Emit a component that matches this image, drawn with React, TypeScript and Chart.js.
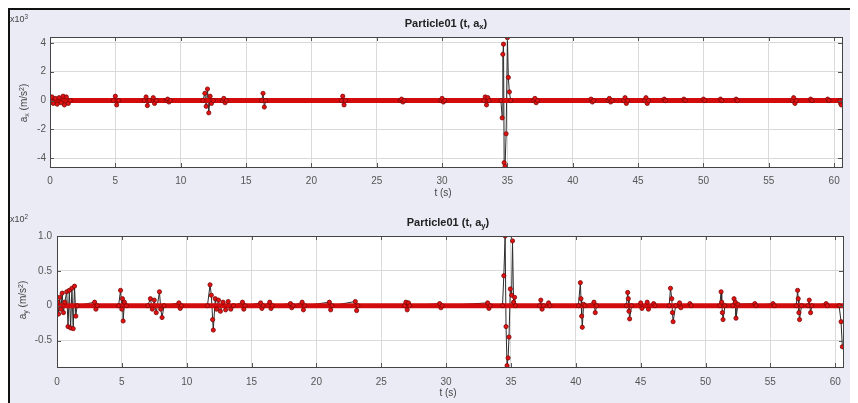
import React, { useEffect, useRef } from 'react';
import { Chart, registerables } from 'chart.js';
Chart.register(...registerables);

// ---------- data ----------
const xTicks = [0, 5, 10, 15, 20, 25, 30, 35, 40, 45, 50, 55, 60];
const xTickLabels = ['0', '5', '10', '15', '20', '25', '30', '35', '40', '45', '50', '55', '60'];
const axTicks = [-4, -2, 0, 2, 4];
const axTickLabels = ['-4', '-2', '0', '2', '4'];
const ayTicks = [-0.5, 0, 0.5, 1.0];
const ayTickLabels = ['-0.5', '0', '0.5', '1.0'];

const baselineTime = [0, 60.6];
const baselineValue = [0, 0];

const axTime = [
  0.05, 0.15, 0.25, 0.4, 0.55, 0.7, 0.85, 1.0, 1.1, 1.25, 1.4, 1.55,
  4.85, 5.0, 5.1, 5.25,
  7.2, 7.35, 7.45, 7.6, 7.9, 8.0, 8.15,
  8.9, 9.0, 9.1, 9.2,
  11.7, 11.85, 11.95, 12.05, 12.15, 12.25, 12.35, 12.5,
  13.2, 13.3, 13.4, 13.5,
  16.2, 16.3, 16.4, 16.5,
  22.3, 22.4, 22.5, 22.6,
  26.8, 26.9, 27.0, 27.1,
  29.9, 30.0, 30.1, 30.2,
  33.2, 33.3, 33.4, 33.5, 33.6,
  34.5, 34.6, 34.65, 34.7, 34.75, 34.82, 34.9, 35.0, 35.07, 35.15, 35.25,
  37.0, 37.1, 37.2, 37.3,
  41.4, 41.5, 41.6,
  42.7, 42.8, 42.9, 43.0,
  43.9, 44.0, 44.1, 44.2,
  45.5, 45.6, 45.7, 45.8,
  47.0, 47.1, 48.5, 48.6, 50.0, 50.1, 51.3, 51.4, 52.5, 52.6,
  56.8, 56.9, 57.0, 57.1,
  58.2, 58.3, 59.5, 59.6,
  60.45, 60.5, 60.55,
];
const axValue = [
  0, 0.25, -0.2, 0.15, -0.25, 0.2, -0.15, 0.3, -0.3, 0.25, -0.2, 0,
  0, 0.3, -0.3, 0,
  0, 0.25, -0.35, 0, 0.2, -0.2, 0,
  0, 0.1, -0.1, 0,
  0, 0.5, -0.4, 0.8, -0.85, 0.3, -0.2, 0,
  0, 0.15, -0.15, 0,
  0, 0.5, -0.45, 0,
  0, 0.3, -0.3, 0,
  0, 0.1, -0.1, 0,
  0, 0.15, -0.1, 0,
  0, 0.25, -0.3, 0.2, 0,
  0, -1.2, 3.2, 3.9, -4.3, -4.55, -2.3, 4.35, 1.6, 0.6, 0,
  0, 0.15, -0.15, 0,
  0.1, -0.1, 0,
  0, 0.15, -0.1, 0,
  0, 0.2, -0.2, 0,
  0, 0.2, -0.2, 0,
  0.1, 0, 0.1, 0, 0.1, 0, 0.1, 0, 0.1, 0,
  0, 0.2, -0.2, 0,
  0.1, 0, 0.1, 0,
  0, -0.2, -0.3,
];

const ayTime = [
  0.05, 0.12, 0.2, 0.3, 0.4, 0.5, 0.6, 0.75, 0.85, 0.95, 1.05, 1.15, 1.25, 1.35, 1.45, 1.55,
  2.9, 3.0, 3.1,
  4.75, 4.9, 5.0, 5.05, 5.1, 5.2, 5.35,
  7.0, 7.2, 7.35, 7.5, 7.65, 7.9, 8.0, 8.1, 8.25,
  9.4, 9.5, 9.6,
  11.6, 11.8, 11.9, 12.0, 12.05, 12.2, 12.3, 12.45, 12.6, 12.8, 13.0, 13.2, 13.4, 13.6,
  14.3, 14.4, 14.5,
  15.7, 15.8, 15.9,
  16.4, 16.5, 16.6,
  18.0, 18.1, 18.2,
  18.9, 19.0, 19.1,
  21.0, 21.1, 21.2,
  23.0, 23.1, 23.2,
  26.8, 26.9, 27.0, 27.1, 27.2,
  29.5, 29.6, 29.7,
  33.2, 33.3, 33.4,
  34.35, 34.45, 34.55, 34.62, 34.7, 34.78, 34.85, 34.95, 35.05, 35.12, 35.2, 35.28, 35.35,
  37.2, 37.3, 37.4, 37.5, 37.9, 38.0,
  40.2, 40.35, 40.4, 40.45, 40.5, 40.6, 40.7,
  41.4, 41.5, 41.6,
  43.9, 44.0, 44.05, 44.1, 44.15, 44.3,
  45.0, 45.1, 45.5, 45.6, 46.0, 46.1,
  47.2, 47.3, 47.4, 47.45, 47.5, 47.7,
  48.0, 48.1, 48.8, 48.9,
  51.1, 51.2, 51.25, 51.3, 51.35, 51.5,
  52.1, 52.2, 52.3, 52.35, 52.5,
  53.8, 53.9, 55.2, 55.3,
  57.0, 57.1, 57.15, 57.2, 57.25, 57.4,
  57.9, 58.0, 58.1, 58.2,
  59.3, 59.4,
  60.3, 60.45, 60.55,
];
const ayValue = [
  0.05, -0.12, 0.12, -0.05, 0.18, -0.1, 0.05, 0.2, -0.3, 0.22, -0.32, 0.25, -0.33, 0.28, -0.15, 0,
  0.05, -0.05, 0,
  0, 0.22, -0.05, 0.1, -0.22, 0.05, 0,
  0, 0.1, -0.05, 0.08, -0.1, 0.2, -0.05, -0.17, 0,
  0.04, -0.04, 0,
  0, 0.3, 0.15, -0.2, -0.35, 0.1, -0.05, 0.08, -0.08, 0.05, -0.06, 0.06, -0.05, 0,
  0.05, -0.05, 0,
  0.04, -0.04, 0,
  0.05, -0.04, 0,
  0.03, -0.03, 0,
  0.05, -0.06, 0,
  0.05, -0.06, 0,
  0.06, -0.07, 0,
  0, 0.05, -0.06, 0.04, 0,
  0.03, -0.03, 0,
  0.04, -0.04, 0,
  0, 0.43, 1.0, -0.3, -0.86, -0.75, -0.45, 0.24, 0.15, 0.93, 0.05, 0.12, 0,
  0, 0.08, -0.05, 0, 0.04, 0,
  0, 0.33, 0.1, -0.15, -0.31, 0.02, 0,
  0.05, -0.1, 0,
  0, 0.19, 0.1, -0.08, -0.19, 0,
  0.04, -0.04, 0.05, -0.05, 0.03, 0,
  0, 0.25, 0.1, -0.1, -0.23, 0,
  0.04, -0.03, 0.03, 0,
  0, 0.2, 0.05, -0.1, -0.2, 0,
  0, 0.1, 0.05, -0.18, 0.02,
  0.03, 0, 0.03, 0,
  0, 0.22, 0.1, -0.1, -0.2, 0,
  0, 0.08, -0.1, 0,
  0.03, 0,
  0, -0.23, -0.59,
];

// ---------- styling ----------
const FONT = '"Liberation Sans", Arial, sans-serif';
const BG = '#ebebf6';

const framePlugin = {
  id: 'frame',
  beforeDraw(chart: any) {
    const { ctx, chartArea } = chart;
    ctx.save();
    ctx.fillStyle = '#ffffff';
    ctx.fillRect(chartArea.left, chartArea.top, chartArea.right - chartArea.left, chartArea.bottom - chartArea.top);
    ctx.restore();
  },
  afterDraw(chart: any) {
    const { ctx, chartArea, scales } = chart;
    const { left, top, right, bottom } = chartArea;
    ctx.save();
    ctx.strokeStyle = '#555';
    ctx.lineWidth = 1;
    ctx.beginPath();
    scales.x.ticks.forEach((t: any) => {
      const px = Math.round(scales.x.getPixelForValue(t.value)) + 0.5;
      ctx.moveTo(px, bottom); ctx.lineTo(px, bottom - 4);
      ctx.moveTo(px, top); ctx.lineTo(px, top + 4);
    });
    scales.y.ticks.forEach((t: any) => {
      const py = Math.round(scales.y.getPixelForValue(t.value)) + 0.5;
      ctx.moveTo(left, py); ctx.lineTo(left + 4, py);
      ctx.moveTo(right, py); ctx.lineTo(right - 4, py);
    });
    ctx.stroke();
    ctx.strokeStyle = '#444';
    ctx.strokeRect(Math.round(left) + 0.5, Math.round(top) + 0.5, Math.round(right - left), Math.round(bottom - top));
    ctx.restore();
  },
};

function makeConfig(p: {
  time: number[]; value: number[]; yMin: number; yMax: number; yTicks: number[]; yLabels: string[];
  padTop: number; padRight: number; yWidth: number; xHeight: number; xPad: number; yPad: number;
}) {
  const pts = p.time.map((t, i) => ({ x: t, y: p.value[i] }));
  const base = baselineTime.map((t, i) => ({ x: t, y: baselineValue[i] }));
  return {
    type: 'line' as const,
    data: {
      datasets: [
        {
          data: pts,
          order: 3,
          borderColor: '#2b2b2b',
          borderWidth: 1,
          pointRadius: 0,
          tension: 0,
          fill: false,
        },
        {
          data: base,
          order: 2,
          borderColor: '#d20c0c',
          borderWidth: 5,
          pointRadius: 0,
          tension: 0,
          fill: false,
        },
        {
          data: pts,
          order: 1,
          showLine: false,
          pointRadius: 2.1,
          pointBackgroundColor: '#e31212',
          pointBorderColor: '#7a0808',
          pointBorderWidth: 0.8,
        },
      ],
    },
    options: {
      animation: false as const,
      responsive: false,
      devicePixelRatio: 1,
      layout: { padding: { top: p.padTop, right: p.padRight, left: 0, bottom: 0 } },
      plugins: { legend: { display: false }, tooltip: { enabled: false }, title: { display: false } },
      scales: {
        x: {
          type: 'linear' as const,
          min: 0,
          max: 60.6,
          afterBuildTicks: (s: any) => { s.ticks = xTicks.map((v) => ({ value: v })); },
          afterFit: (s: any) => { s.height = p.xHeight; },
          grid: { color: '#dadada', drawTicks: false, lineWidth: 1 },
          border: { display: false },
          ticks: {
            padding: p.xPad, color: '#555', font: { family: FONT, size: 10 }, maxRotation: 0, autoSkip: false,
            callback: (_v: any, i: number) => xTickLabels[i],
          },
        },
        y: {
          type: 'linear' as const,
          min: p.yMin,
          max: p.yMax,
          afterBuildTicks: (s: any) => { s.ticks = p.yTicks.map((v) => ({ value: v })); },
          afterFit: (s: any) => { s.width = p.yWidth; },
          grid: { color: '#dadada', drawTicks: false, lineWidth: 1 },
          border: { display: false },
          ticks: {
            padding: p.yPad, color: '#555', font: { family: FONT, size: 10 }, autoSkip: false,
            callback: (_v: any, i: number) => p.yLabels[i],
          },
        },
      },
    },
    plugins: [framePlugin],
  };
}

const abs = (extra: React.CSSProperties): React.CSSProperties => ({
  position: 'absolute', fontFamily: FONT, color: '#333', whiteSpace: 'nowrap', lineHeight: 1, ...extra,
});
const subStyle: React.CSSProperties = { fontSize: '70%', verticalAlign: '-0.3em', lineHeight: 0 };
const supStyle: React.CSSProperties = { fontSize: '70%', verticalAlign: '0.45em', lineHeight: 0 };

export default function App() {
  const c1 = useRef<HTMLCanvasElement>(null);
  const c2 = useRef<HTMLCanvasElement>(null);

  useEffect(() => {
    document.documentElement.style.overflow = 'hidden';
    const ch1 = new Chart(c1.current as HTMLCanvasElement, makeConfig({
      time: axTime, value: axValue, yMin: -4.6, yMax: 4.4, yTicks: axTicks, yLabels: axTickLabels,
      padTop: 29, padRight: 16, yWidth: 42, xHeight: 41, xPad: 8, yPad: 4,
    }) as any);
    const ch2 = new Chart(c2.current as HTMLCanvasElement, makeConfig({
      time: ayTime, value: ayValue, yMin: -0.88, yMax: 1.0, yTicks: ayTicks, yLabels: ayTickLabels,
      padTop: 33, padRight: 15, yWidth: 49, xHeight: 36, xPad: 9, yPad: 5,
    }) as any);
    return () => { ch1.destroy(); ch2.destroy(); };
  }, []);

  return (
    <div style={{ position: 'relative', width: 850, height: 395, background: BG, overflow: 'hidden' }}>
      <div style={{ position: 'absolute', left: 0, top: 0, width: 850, height: 2, background: '#111' }} />
      <div style={{ position: 'absolute', left: 0, top: 0, width: 2, height: 395, background: '#111' }} />
      <canvas ref={c1} width={850} height={200} style={{ position: 'absolute', left: 0, top: 0, width: 850, height: 200 }} />
      <canvas ref={c2} width={850} height={200} style={{ position: 'absolute', left: 0, top: 195, width: 850, height: 200 }} />

      <div style={abs({ left: 438, top: 15, transform: 'translate(-50%,-50%)', fontSize: 11, fontWeight: 'bold', color: '#222' })}>
        Particle01 (t, a<span style={subStyle}>x</span>)
      </div>
      <div style={abs({ left: 435, top: 185, transform: 'translate(-50%,-50%)', fontSize: 10, color: '#444' })}>t (s)</div>
      <div style={abs({ left: 16, top: 95, transform: 'translate(-50%,-50%) rotate(-90deg)', fontSize: 10, color: '#444' })}>
        a<span style={subStyle}>x</span> (m/s<span style={supStyle}>2</span>)
      </div>
      <div style={abs({ left: 2, top: 7, fontSize: 9, color: '#444' })}>
        x10<span style={supStyle}>3</span>
      </div>

      <div style={abs({ left: 440, top: 214, transform: 'translate(-50%,-50%)', fontSize: 11, fontWeight: 'bold', color: '#222' })}>
        Particle01 (t, a<span style={subStyle}>y</span>)
      </div>
      <div style={abs({ left: 440, top: 385, transform: 'translate(-50%,-50%)', fontSize: 10, color: '#444' })}>t (s)</div>
      <div style={abs({ left: 15, top: 292, transform: 'translate(-50%,-50%) rotate(-90deg)', fontSize: 10, color: '#444' })}>
        a<span style={subStyle}>y</span> (m/s<span style={supStyle}>2</span>)
      </div>
      <div style={abs({ left: 2, top: 207, fontSize: 9, color: '#444' })}>
        x10<span style={supStyle}>2</span>
      </div>
    </div>
  );
}
